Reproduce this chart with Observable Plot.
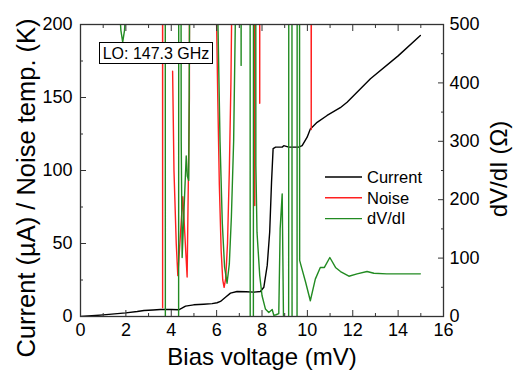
<!DOCTYPE html>
<html><head><meta charset="utf-8">
<script src="https://cdn.jsdelivr.net/npm/d3@7"></script>
<script src="https://cdn.jsdelivr.net/npm/@observablehq/plot@0.6"></script>
<style>
body{margin:0;background:#fff;font-family:"Liberation Sans",Arial,sans-serif;}
#wrap{position:relative;width:518px;height:373px;overflow:hidden;}
.t{position:absolute;white-space:nowrap;color:#000;line-height:1;}
</style></head><body><div id="wrap"></div>
<script>
// ---- data ----
const currentV = [0,0.5,1.0,1.5,2.0,2.5,2.8,3.2,3.52,4.0,4.33,4.45,4.63,4.99,5.43,5.8,6.02,6.17,6.39,6.61,6.9,7.3,7.64,7.93,8.08,8.23,8.34,8.42,8.49,8.6,8.89,8.96,9.18,9.4,9.62,9.77,9.99,10.13,10.21,10.43,10.87,11.45,11.75,12.78,14.0,14.98];
const currentI = [0,0.5,1.1,1.8,2.5,3.4,4.1,4.5,4.8,4.8,4.6,5.5,7.1,8.0,8.4,8.8,9.4,10.3,13.2,16.0,17.1,17.0,16.7,17.1,20,35,58,92,115,116,116,117,116,116,116,117,122.8,128.5,129.7,133,137.7,143,146.8,162.8,178.5,192.5];

const noiseV = [3.58,3.62,3.66,3.70,4.06,4.12,4.22,4.29,4.51,4.70,4.80,4.86,5.93,5.98,6.05,6.12,6.20,6.27,6.33,6.40,6.48,6.56,6.63,6.68,6.72,7.62,7.68,7.72,7.84,7.90,7.96,10.02,10.17,10.33,10.40];
const noiseK = [3000,6,3000,NaN,168,100,50,28,82,27,150,3000,3000,220,150,90,45,25,20,26,50,100,160,230,3000,3000,76,3000,3000,146,3000,3000,128,3000,3000];

const dvdiV = [1.60,1.70,1.78,1.86,1.94,2.02,2.10,3.72,3.76,4.30,4.35,4.44,4.48,4.56,4.66,4.71,4.77,4.82,4.86,5.98,6.05,6.15,6.25,6.35,6.46,6.56,6.65,6.75,6.83,6.88,7.02,7.08,7.12,7.46,7.50,7.60,7.64,7.70,7.73,7.78,7.90,8.00,8.15,8.30,8.45,8.52,8.62,8.74,8.80,8.89,8.96,9.00,9.15,9.20,9.30,9.35,9.52,9.57,9.63,9.66,9.70,9.92,10.13,10.35,10.57,10.75,10.99,11.24,11.46,11.83,12.19,12.63,12.93,13.5,14.0,14.5,14.98];
const dvdiOhm = [900,540,490,470,490,540,900,3000,-3000,-3000,3000,300,101,180,275,240,233,600,3000,3000,520,300,160,85,57,90,170,300,520,3000,3000,430,3000,3000,-3000,-3000,3000,3000,258,144,70,36,13,7,12,2,3,5,150,210,-50,-3000,-3000,3000,3000,-3000,-3000,3000,3000,96,90,59,27,64,84,84,101,84,77,69,73,77,74,73,73,73,73];

const xTicks = [0,2,4,6,8,10,12,14,16];
const xMinor = [1,3,5,7,9,11,13,15];
const yTicks = [0,50,100,150,200];
const yMinor = [25,75,125,175];
const rTicks = [0,100,200,300,400,500];
const rMinor = [50,150,250,350,450];
const seriesNames = ["Current","Noise","dV/dI"];
const seriesColors = ["#000000","#ff2020","#228b22"];
const loLabel = "LO: 147.3 GHz";

// ---- build ----
const rightMax = 500, leftMax = 200, k = leftMax / rightMax;
const cur = currentV.map((v,i)=>({v, y: currentI[i]}));
const noi = noiseV.map((v,i)=>({v, y: noiseK[i]}));
const grn = dvdiV.map((v,i)=>({v, y: dvdiOhm[i] * k}));
const blank = () => "";
const font = '"Liberation Sans", Arial, sans-serif';

const plot = Plot.plot({
  width: 518, height: 373,
  marginLeft: 80, marginRight: 75, marginTop: 24, marginBottom: 57,
  x: {domain: [0, 16]},
  y: {domain: [0, 200]},
  style: {fontFamily: font, fontSize: "18px", background: "white", color: "black", overflow: "visible"},
  marks: [
    Plot.line(cur, {x: "v", y: "y", stroke: seriesColors[0], strokeWidth: 1.4, clip: true}),
    Plot.line(noi, {x: "v", y: "y", stroke: seriesColors[1], strokeWidth: 1.4, clip: true}),
    Plot.line(grn, {x: "v", y: "y", stroke: seriesColors[2], strokeWidth: 1.4, clip: true}),
    Plot.frame({stroke: "#333", strokeWidth: 1.3}),
    // labels
    Plot.axisX(xTicks, {anchor: "bottom", tickSize: 0, tickPadding: 7, label: null, fill: "black"}),
    Plot.axisY(yTicks, {anchor: "left", tickSize: 0, tickPadding: 8, label: null, fill: "black"}),
    Plot.axisY(rTicks.map(d => d * k), {anchor: "right", tickSize: 0, tickPadding: 6, label: null, fill: "black", tickFormat: d => Math.round(d / k)}),
    // inward ticks
    Plot.axisX(xTicks, {anchor: "bottom", tickSize: 6, dy: -6, tickFormat: blank, label: null, stroke: "#333"}),
    Plot.axisX(xMinor, {anchor: "bottom", tickSize: 3, dy: -3, tickFormat: blank, label: null, stroke: "#333"}),
    Plot.axisX(xTicks, {anchor: "top", tickSize: 6, dy: 6, tickFormat: blank, label: null, stroke: "#333"}),
    Plot.axisX(xMinor, {anchor: "top", tickSize: 3, dy: 3, tickFormat: blank, label: null, stroke: "#333"}),
    Plot.axisY(yTicks, {anchor: "left", tickSize: 6, dx: 6, tickFormat: blank, label: null, stroke: "#333"}),
    Plot.axisY(yMinor, {anchor: "left", tickSize: 3, dx: 3, tickFormat: blank, label: null, stroke: "#333"}),
    Plot.axisY(rTicks.map(d => d * k), {anchor: "right", tickSize: 6, dx: -6, tickFormat: blank, label: null, stroke: "#333"}),
    Plot.axisY(rMinor.map(d => d * k), {anchor: "right", tickSize: 3, dx: -3, tickFormat: blank, label: null, stroke: "#333"})
  ]
});
const wrap = document.getElementById("wrap");
wrap.appendChild(plot);

function addText(txt, css) {
  const d = document.createElement("div");
  d.className = "t";
  d.textContent = txt;
  Object.assign(d.style, css);
  wrap.appendChild(d);
  return d;
}
// axis titles
addText("Bias voltage (mV)", {left: "262px", top: "345px", fontSize: "24px", transform: "translateX(-50%)"});
addText("Current (\u00b5A) / Noise temp. (K)", {left: "0px", top: "0px", fontSize: "25.5px",
  transform: "translate(27px,188px) rotate(-90deg) translate(-50%,-50%)", transformOrigin: "0 0"});
addText("dV/dI (\u03a9)", {left: "0px", top: "0px", fontSize: "24px",
  transform: "translate(499px,169px) rotate(-90deg) translate(-50%,-50%)", transformOrigin: "0 0"});
// LO box
addText(loLabel, {left: "99px", top: "42px", width: "112px", height: "20px", fontSize: "16px", border: "1px solid #000",
  background: "#fff", textAlign: "center", lineHeight: "21px"});
// legend
const ns = "http://www.w3.org/2000/svg";
const lg = document.createElementNS(ns, "svg");
lg.setAttribute("width", "518"); lg.setAttribute("height", "373");
lg.style.position = "absolute"; lg.style.left = "0"; lg.style.top = "0";
seriesNames.forEach((name, i) => {
  const y = 177 + i * 20.8;
  const l = document.createElementNS(ns, "line");
  l.setAttribute("x1", 325); l.setAttribute("x2", 362);
  l.setAttribute("y1", y); l.setAttribute("y2", y);
  l.setAttribute("stroke", seriesColors[i]); l.setAttribute("stroke-width", 1.4);
  lg.appendChild(l);
  const t = document.createElementNS(ns, "text");
  t.setAttribute("x", 367); t.setAttribute("y", y);
  t.setAttribute("dy", "0.35em");
  t.setAttribute("font-size", "16.5");
  t.setAttribute("font-family", font);
  t.textContent = name;
  lg.appendChild(t);
});
wrap.appendChild(lg);
</script>
</body></html>
